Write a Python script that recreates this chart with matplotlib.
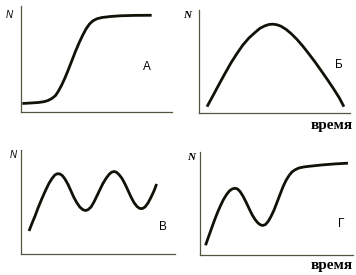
import matplotlib
matplotlib.use("Agg")
import matplotlib.pyplot as plt

# Panel А: logistic growth
t_a = [1.1, 6.1, 11.4, 15.4, 18.0, 20.6, 23.0, 24.9, 26.9, 29.2, 31.5, 33.8, 36.1, 38.5,
       40.8, 43.1, 45.4, 47.7, 50.3, 53.6, 58.9, 65.5, 75.4, 86.4]
n_a = [8.3, 8.7, 9.2, 10.0, 11.1, 13.0, 15.8, 20.0, 25.2, 32.3, 40.3, 48.7, 57.2, 65.2,
       72.2, 78.4, 83.1, 86.1, 88.0, 89.2, 90.1, 90.8, 91.2, 91.3]

# Panel Б: rise and fall
t_b = [5.5, 9.5, 13.4, 17.4, 21.3, 25.3, 29.2, 33.2, 37.2, 40.5, 43.8, 46.5, 49.1, 51.8,
       54.4, 57.8, 61.0, 65.0, 69.0, 72.9, 76.9, 80.9, 84.8, 88.8, 92.8, 96.0]
n_b = [6.4, 17.2, 27.9, 38.6, 48.7, 57.9, 66.1, 72.9, 78.2, 82.3, 84.7, 86.0, 86.3, 85.7,
       84.3, 81.2, 77.3, 71.5, 64.7, 57.4, 49.7, 41.4, 33.2, 24.5, 15.3, 6.4]

# Panel В: oscillations
t_c = [5.4, 7.3, 9.3, 11.5, 13.8, 16.1, 18.3, 20.3, 22.2, 23.8, 25.5, 27.1, 28.7, 30.7,
       32.6, 34.5, 36.5, 38.4, 40.4, 42.0, 43.6, 45.6, 47.5, 49.4, 51.4, 53.3, 55.3, 57.2,
       58.8, 60.5, 62.1, 63.7, 65.7, 67.6, 69.6, 71.5, 73.4, 75.4, 77.3, 78.9, 80.6, 82.5,
       84.4, 86.4, 88.1]
n_c = [22.4, 29.6, 36.8, 45.5, 53.7, 61.4, 68.1, 72.9, 76.3, 77.5, 77.2, 75.5, 72.4, 67.1,
       60.9, 54.6, 49.3, 45.3, 42.8, 42.1, 42.8, 45.5, 50.3, 56.1, 62.3, 68.1, 72.9, 76.7,
       78.8, 79.6, 78.9, 76.7, 72.9, 67.6, 61.3, 55.1, 49.8, 45.9, 44.0, 44.0, 45.5, 49.3,
       54.6, 60.9, 67.6]

# Panel Г: peak, dip, then plateau
t_d = [3.8, 5.7, 7.7, 9.7, 11.6, 13.6, 15.5, 17.5, 19.4, 21.4, 23.0, 24.7, 26.3, 28.2,
       30.2, 32.2, 34.1, 36.1, 38.0, 39.7, 41.3, 42.9, 44.6, 46.5, 48.5, 50.4, 52.4, 54.3,
       56.3, 58.3, 60.2, 62.2, 64.8, 68.1, 73.3, 79.8, 88.3, 96.7]
n_d = [9.7, 17.7, 26.0, 34.2, 41.4, 48.2, 54.0, 58.8, 62.4, 64.4, 64.9, 64.2, 61.8, 57.4,
       51.6, 45.3, 39.5, 34.7, 31.3, 29.4, 28.9, 29.8, 32.7, 37.6, 43.9, 51.2, 58.9, 66.2,
       72.5, 77.3, 80.7, 82.8, 84.6, 85.6, 86.5, 87.5, 88.5, 89.2]

panel_letters = ["А", "Б", "В", "Г"]
y_label = "N"
x_label = "время"

W, H = 356, 275
fig = plt.figure(figsize=(W / 100, H / 100), dpi=100)
fig.patch.set_facecolor("white")

rects = [
    (0.0581, 0.5916, 0.4258, 0.3865),
    (0.5581, 0.5880, 0.4250, 0.3756),
    (0.0581, 0.0753, 0.4334, 0.3782),
    (0.5610, 0.0716, 0.4306, 0.3756),
]
data = [(t_a, n_a), (t_b, n_b), (t_c, n_c), (t_d, n_d)]
spine_col = "#55553f"

for rect, (t, n) in zip(rects, data):
    ax = fig.add_axes(rect)
    ax.plot(t, n, color="#111108", lw=2.0, solid_capstyle="butt", solid_joinstyle="round")
    ax.set_xlim(0, 100)
    ax.set_ylim(0, 100)
    for s in ["top", "right"]:
        ax.spines[s].set_visible(False)
    for s in ["left", "bottom"]:
        ax.spines[s].set_color(spine_col)
        ax.spines[s].set_linewidth(0.9)
    ax.set_xticks([])
    ax.set_yticks([])
    ax.patch.set_alpha(0)

# N labels
fig.text(9.3 / W, 1 - 15 / H, y_label, fontsize=7, style="italic", family="Liberation Sans",
         ha="center", va="center")
fig.text(187.3 / W, 1 - 16 / H, y_label, fontsize=8, style="italic", weight="bold",
         family="Liberation Serif", ha="center", va="center")
fig.text(13.3 / W, 1 - 155.3 / H, y_label, fontsize=7, style="italic", family="Liberation Sans",
         ha="center", va="center")
fig.text(191.3 / W, 1 - 157 / H, y_label, fontsize=8, style="italic", weight="bold",
         family="Liberation Serif", ha="center", va="center")

# panel letters
letter_pos = [(146.7, 66.7), (339, 65), (163.3, 227), (341.3, 223.7)]
for (x, y), lab in zip(letter_pos, panel_letters):
    fig.text(x / W, 1 - y / H, lab, fontsize=8.5, family="Liberation Sans",
             ha="center", va="center")

# time labels
for y in (125, 265):
    fig.text(353 / W, 1 - y / H, x_label, fontsize=11, weight="bold",
             family="Liberation Serif", ha="right", va="center")

fig.savefig("out.png", dpi=100, facecolor="white")
